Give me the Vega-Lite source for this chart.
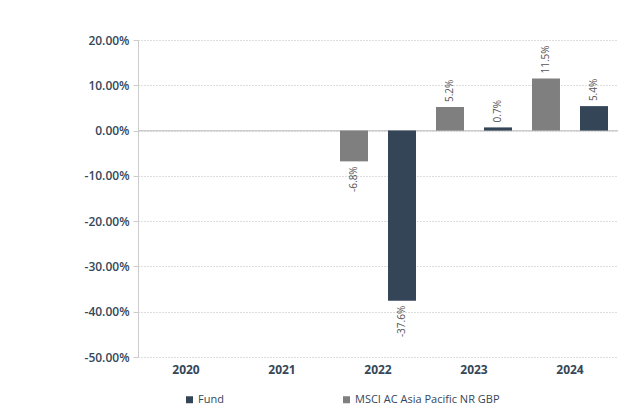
{
  "$schema": "https://vega.github.io/schema/vega-lite/v6.json",
  "width": 480,
  "height": 317,
  "autosize": {"type": "none"},
  "padding": {"left": 138, "top": 40, "right": 0, "bottom": 50},
  "background": "white",
  "config": {
    "view": {"stroke": null},
    "font": "Open Sans",
    "locale": {"number": {"decimal": ".", "thousands": ",", "grouping": [3], "currency": ["$", ""], "minus": "-"}}
  },
  "data": {
    "values": [
      {"year": "2022", "series": "MSCI AC Asia Pacific NR GBP", "value": -0.068},
      {"year": "2022", "series": "Fund", "value": -0.376},
      {"year": "2023", "series": "MSCI AC Asia Pacific NR GBP", "value": 0.052},
      {"year": "2023", "series": "Fund", "value": 0.007},
      {"year": "2024", "series": "MSCI AC Asia Pacific NR GBP", "value": 0.115},
      {"year": "2024", "series": "Fund", "value": 0.054}
    ]
  },
  "encoding": {
    "x": {
      "field": "year", "type": "nominal",
      "scale": {"domain": ["2020", "2021", "2022", "2023", "2024"], "paddingInner": 0, "paddingOuter": 0},
      "axis": {
        "title": null, "labelAngle": 0, "domain": false, "ticks": false,
        "labelFont": "Open Sans", "labelFontSize": 12, "labelFontWeight": 700,
        "labelColor": "#34475a", "labelPadding": 7
      }
    },
    "xOffset": {
      "field": "series", "type": "nominal",
      "sort": ["MSCI AC Asia Pacific NR GBP", "Fund"],
      "scale": {"paddingInner": 0.417, "paddingOuter": 0.208}
    },
    "y": {
      "field": "value", "type": "quantitative",
      "scale": {"domain": [-0.5, 0.2], "nice": false, "zero": false},
      "axis": {
        "title": null, "format": ".2%",
        "values": [-0.5, -0.4, -0.3, -0.2, -0.1, 0, 0.1, 0.2],
        "domain": true, "domainColor": "#cccccc",
        "ticks": true, "tickColor": "#cccccc", "tickSize": 5,
        "grid": true, "gridColor": "#bbbbbb", "gridDash": [1, 2], "gridWidth": 1,
        "labelFont": "Open Sans", "labelFontSize": 12, "labelFontWeight": 600,
        "labelColor": "#34475a", "labelPadding": 4
      }
    }
  },
  "layer": [
    {
      "mark": {"type": "rule", "color": "#cccccc", "strokeWidth": 1},
      "encoding": {"y": {"datum": 0}, "x": null, "xOffset": null}
    },
    {
      "mark": {"type": "bar"},
      "encoding": {
        "color": {
          "field": "series", "type": "nominal",
          "scale": {"domain": ["Fund", "MSCI AC Asia Pacific NR GBP"], "range": ["#344558", "#7f7f7f"]},
          "legend": {
            "title": null, "orient": "none", "legendX": 46, "legendY": 354,
            "direction": "horizontal", "columns": 2, "columnPadding": 117,
            "symbolType": "square", "symbolSize": 49, "symbolStrokeWidth": 0,
            "labelFont": "Open Sans", "labelFontSize": 11, "labelColor": "#34475a",
            "labelOffset": 3, "padding": 0
          }
        }
      }
    },
    {
      "transform": [{"filter": "datum.value >= 0"}],
      "mark": {"type": "text", "angle": 270, "align": "left", "baseline": "middle", "dx": 5, "fontSize": 10, "color": "#555555"},
      "encoding": {"text": {"field": "value", "type": "quantitative", "format": ".1%"}}
    },
    {
      "transform": [{"filter": "datum.value < 0"}],
      "mark": {"type": "text", "angle": 270, "align": "right", "baseline": "middle", "dx": -5, "fontSize": 10, "color": "#555555"},
      "encoding": {"text": {"field": "value", "type": "quantitative", "format": ".1%"}}
    }
  ]
}
